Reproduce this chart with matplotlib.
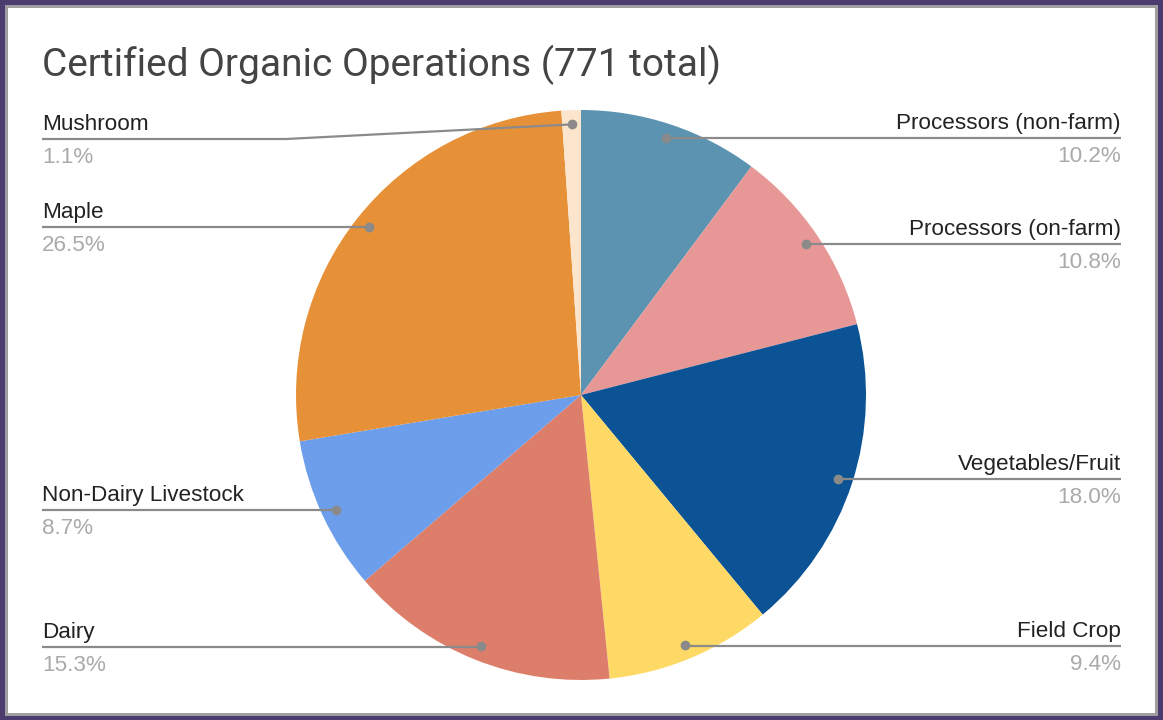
import numpy as np
import matplotlib
matplotlib.use("Agg")
import matplotlib.pyplot as plt
from matplotlib.patches import Rectangle

# ---- data ----
categories = ["Processors (non-farm)", "Processors (on-farm)", "Vegetables/Fruit",
              "Field Crop", "Dairy", "Non-Dairy Livestock", "Maple", "Mushroom"]
values = [10.2, 10.8, 18.0, 9.4, 15.3, 8.7, 26.5, 1.1]
pct_labels = ["10.2%", "10.8%", "18.0%", "9.4%", "15.3%", "8.7%", "26.5%", "1.1%"]
colors = ["#5b93b0", "#e89797", "#0b5394", "#ffd966", "#dd7e6b", "#6d9eeb", "#e69138", "#fce5cd"]
title = "Certified Organic Operations (771 total)"

# layout (pixel positions, y measured from top)
label_line_y = [138, 244, 479, 646, 647, 510, 227, 139]
label_side = ["R", "R", "R", "R", "L", "L", "L", "L"]

W, H = 1163, 720
fig = plt.figure(figsize=(W / 100, H / 100), dpi=100)
fig.patch.set_facecolor("#4b3b6e")
ax = fig.add_axes([0, 0, 1, 1])

# frame
ax.add_patch(Rectangle((5, 4), W - 10, H - 9, facecolor="#9e9e9e", edgecolor="none", zorder=0))
ax.add_patch(Rectangle((8, 7), W - 16, H - 15, facecolor="white", edgecolor="none", zorder=0))

cx, cy, R = 581, H - 395, 285
wedges, _ = ax.pie(values, colors=colors, startangle=90, counterclock=False,
                   center=(cx, cy), radius=R, frame=True,
                   wedgeprops=dict(linewidth=0))
ax.set_xlim(0, W)
ax.set_ylim(0, H)
ax.set_aspect("equal")
ax.axis("off")

ax.text(42, H - 65, title, fontsize=28, color="#444444", family="Roboto",
        ha="left", va="center")

line_c = "#8a8a8a"
for w, cat, pct, ly, side in zip(wedges, categories, pct_labels, label_line_y, label_side):
    ang = np.deg2rad((w.theta1 + w.theta2) / 2)
    dx = cx + 0.95 * R * np.cos(ang)
    dy = cy + 0.95 * R * np.sin(ang)
    Y = H - ly
    if side == "R":
        xs, ys = [dx, 1121], [Y, Y]
        if abs(dy - Y) > 3:
            xs, ys = [dx, dx + 250, 1121], [dy, Y, Y]
        tx, ha = 1121, "right"
    else:
        xs, ys = [42, dx], [Y, Y]
        if abs(dy - Y) > 3:
            xs, ys = [42, 286, dx], [Y, Y, dy]
        tx, ha = 42, "left"
    ax.plot(xs, ys, color=line_c, lw=1.6, zorder=5, solid_capstyle="butt")
    ax.plot([dx], [dy], "o", color=line_c, ms=6, zorder=6)
    ax.text(tx, Y + 4, cat, fontsize=16.2, color="#222222", family="Liberation Sans",
            ha=ha, va="bottom")
    ax.text(tx, Y - 8, pct, fontsize=16.2, color="#aaaaaa", family="Liberation Sans",
            ha=ha, va="top")

fig.savefig("out.png", dpi=100, facecolor=fig.get_facecolor())
